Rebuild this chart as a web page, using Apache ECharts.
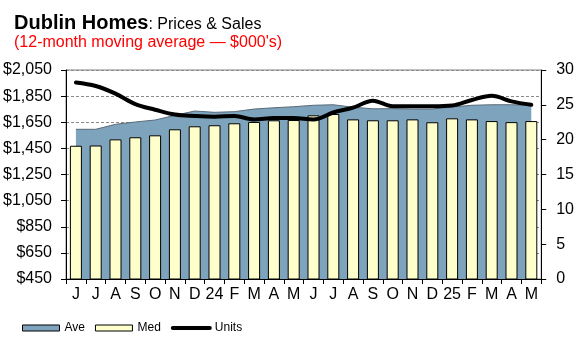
<!DOCTYPE html>
<html>
<head>
<meta charset="utf-8">
<script src="https://cdn.jsdelivr.net/npm/echarts@6/dist/echarts.min.js"></script>
<style>
  html, body { margin: 0; padding: 0; background: #fff; }
  #chart { width: 577px; height: 344px; }
</style>
</head>
<body>
<div id="chart"></div>
<script>
const months = ['J','J','A','S','O','N','D','24','F','M','A','M','J','J','A','S','O','N','D','25','F','M','A','M'];
const ave = [1596,1596,1634,1652,1667,1703,1736,1726,1731,1751,1761,1769,1780,1784,1765,1753,1754,1751,1751,1767,1780,1784,1784,1780];
const med = [1470,1472,1519,1535,1550,1596,1619,1627,1642,1652,1665,1667,1703,1713,1672,1665,1665,1672,1650,1680,1672,1659,1651,1659];
const units = [28.2,27.7,26.6,25.1,24.3,23.6,23.4,23.3,23.4,22.9,23.1,23.1,22.9,23.9,24.6,25.6,24.8,24.8,24.8,24.9,25.7,26.3,25.5,25.0];
const priceTicks = [450,650,850,1050,1250,1450,1650,1850,2050];
const unitMin = 0, unitMax = 30, unitStep = 5;

const FONT = 'Liberation Sans, Arial, sans-serif';
const AVE_COLOR = '#7DA3BD';
const MED_COLOR = '#FFFFCC';

const chart = echarts.init(document.getElementById('chart'), null, { renderer: 'canvas' });
chart.setOption({
  animation: false,
  backgroundColor: '#fff',
  textStyle: { fontFamily: FONT },
  title: [
    {
      text: '{a|Dublin Homes}{b|: Prices & Sales}',
      left: 14, top: 12, padding: 0,
      textStyle: {
        rich: {
          a: { fontFamily: FONT, fontSize: 20, fontWeight: 'bold', color: '#000', lineHeight: 22 },
          b: { fontFamily: FONT, fontSize: 16, fontWeight: 'normal', color: '#000', lineHeight: 22, padding: [3, 0, 0, 0] }
        }
      }
    },
    {
      text: "(12-month moving average \u2014 $000's)",
      left: 14, top: 35, padding: 0,
      textStyle: { fontFamily: FONT, fontSize: 16, fontWeight: 'normal', color: '#FF0000' }
    }
  ],
  legend: {
    left: 22, top: 322, padding: 0,
    itemWidth: 37, itemHeight: 6, itemGap: 10,
    textStyle: { fontFamily: FONT, fontSize: 12, color: '#000' },
    data: [
      { name: 'Ave', icon: 'rect', itemStyle: { color: AVE_COLOR, borderColor: '#000', borderWidth: 1 } },
      { name: 'Med', icon: 'rect', itemStyle: { color: MED_COLOR, borderColor: '#000', borderWidth: 1 } },
      { name: 'Units', itemStyle: { opacity: 0 }, lineStyle: { width: 4, color: '#000', cap: 'round' } }
    ]
  },
  grid: {
    left: 66, right: 35, top: 70, bottom: 65,
    show: true, borderColor: '#808080', borderWidth: 1, backgroundColor: 'transparent'
  },
  xAxis: {
    type: 'category',
    data: months,
    boundaryGap: true,
    axisLine: { lineStyle: { color: '#000', width: 1 } },
    axisTick: { show: true, interval: 0, length: 5, lineStyle: { color: '#000' } },
    axisLabel: { interval: 0, fontSize: 16, color: '#000', margin: 8, fontFamily: FONT },
    splitLine: { show: false }
  },
  yAxis: [
    {
      type: 'value',
      min: priceTicks[0], max: priceTicks[priceTicks.length - 1],
      position: 'left',
      axisLine: { show: true, lineStyle: { color: '#000', width: 1 } },
      axisTick: { show: true, length: 5, lineStyle: { color: '#000' }, customValues: priceTicks },
      axisLabel: {
        customValues: priceTicks,
        fontSize: 16, color: '#000', margin: 14, fontFamily: FONT,
        formatter: v => '$' + Number(v).toLocaleString('en-US')
      },
      splitLine: { show: true, lineStyle: { color: '#8a8a8a', type: [3, 2], width: 1 } }
    },
    {
      type: 'value',
      min: unitMin, max: unitMax, interval: unitStep,
      position: 'right',
      axisLine: { show: true, lineStyle: { color: '#000', width: 1 } },
      axisTick: { show: true, length: 5, lineStyle: { color: '#000' } },
      axisLabel: { fontSize: 16, color: '#000', margin: 15, fontFamily: FONT },
      splitLine: { show: false }
    }
  ],
  series: [
    {
      name: 'Ave', type: 'line', data: ave, yAxisIndex: 0,
      symbol: 'none', z: 1,
      lineStyle: { color: '#5a6a78', width: 1 },
      itemStyle: { color: AVE_COLOR },
      areaStyle: { color: AVE_COLOR, opacity: 1, origin: 'start' }
    },
    {
      name: 'Med', type: 'bar', data: med, yAxisIndex: 0,
      barWidth: 12, z: 2,
      itemStyle: { color: MED_COLOR, borderColor: '#000', borderWidth: 1 }
    },
    {
      name: 'Units', type: 'line', data: units, yAxisIndex: 1,
      symbol: 'none', smooth: 0.35, z: 3,
      lineStyle: { color: '#000', width: 4, cap: 'round', join: 'round' },
      itemStyle: { color: '#000' }
    }
  ]
});
</script>
</body>
</html>
